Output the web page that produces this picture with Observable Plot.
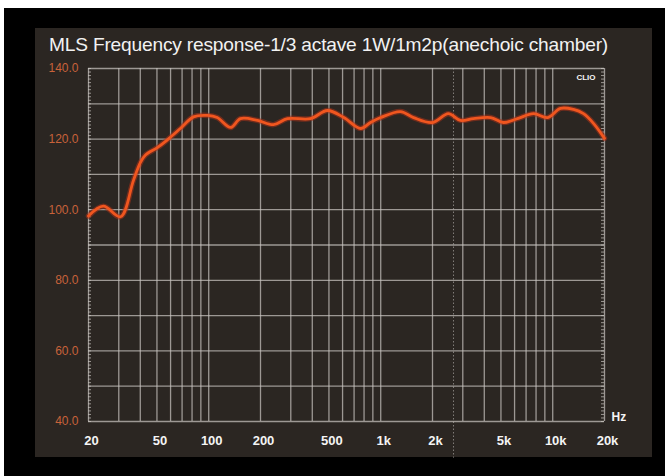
<!DOCTYPE html>
<html>
<head>
<meta charset="utf-8">
<script src="https://cdn.jsdelivr.net/npm/d3@7"></script>
<script src="https://cdn.jsdelivr.net/npm/@observablehq/plot@0.6"></script>
<style>
  html, body { margin: 0; padding: 0; background: #ffffff; }
  body { width: 665px; height: 476px; position: relative; overflow: hidden; font-family: "Liberation Sans", Arial, sans-serif; }
  #frame { position: absolute; left: 4px; top: 8px; width: 661px; height: 468px; background: #000; }
  #panel { position: absolute; left: 35px; top: 28px; width: 617px; height: 429px; background: #2b2622; }
  #title { position: absolute; left: 49px; top: 34px; color: #f2f2f2; font-size: 19px; white-space: nowrap; transform-origin: 0 0; letter-spacing: -0.2px; }
  #chart { position: absolute; left: 0; top: 0; }
</style>
</head>
<body>
<div id="frame"></div>
<div id="panel"></div>
<div id="title">MLS Frequency response-1/3 actave 1W/1m2p(anechoic chamber)</div>
<div id="chart"></div>
<script>
// Measured response (frequency in Hz, level in dB)
const freqs  = [20, 24.4, 30.7, 36.5, 40.1, 42.9, 50.3, 57.5, 68.4, 81.6, 98.4, 112, 134, 153, 192, 238, 287, 390, 490, 610, 764, 872, 1000, 1302, 1552, 2000, 2472, 2906, 3458, 4352, 5180, 6240, 7740, 9340, 11100, 13200, 15100, 17300, 20000];
const levels = [98.2, 101.0, 98.0, 108.3, 113.4, 115.5, 117.6, 119.8, 123.0, 126.3, 126.7, 126.1, 123.3, 125.8, 125.3, 124.1, 125.8, 125.8, 128.1, 126.1, 123.0, 124.7, 126.1, 127.8, 126.1, 124.7, 127.2, 125.3, 125.8, 126.1, 124.7, 125.8, 127.2, 126.1, 128.7, 128.4, 127.2, 124.4, 120.2];

// Axis ticks and labels
const xTickValues = [20, 50, 100, 200, 500, 1000, 2000, 5000, 10000, 20000];
const xTickLabels = ["20", "50", "100", "200", "500", "1k", "2k", "5k", "10k", "20k"];
const xGridValues = [20, 30, 40, 50, 60, 70, 80, 90, 100, 200, 300, 400, 500, 600, 700, 800, 900,
                     1000, 2000, 3000, 4000, 5000, 6000, 7000, 8000, 9000, 10000, 20000];
const yTickValues = [40, 60, 80, 100, 120, 140];
const yGridValues = [40, 50, 60, 70, 80, 90, 100, 110, 120, 130, 140];
const yMinorTicks = d3.range(40, 141, 1);
const unitLabel = ["Hz"];
const brandLabel = ["CLIO"];

const data = freqs.map((f, i) => ({f, db: levels[i]}));
const xLabels = xTickValues.map((v, i) => ({v, label: xTickLabels[i]}));

const gridStroke = "#c9c5c0";

const chart = Plot.plot({
  width: 665,
  height: 476,
  marginLeft: 88,
  marginRight: 61,
  marginTop: 68,
  marginBottom: 55,
  style: {background: "transparent", overflow: "visible", fontFamily: "'Liberation Sans', Arial, sans-serif"},
  x: {type: "log", domain: [20, 20000], axis: null},
  y: {domain: [40, 140]},
  marks: [
    Plot.gridX(xGridValues, {stroke: gridStroke, strokeOpacity: 0.72, strokeWidth: 1.3}),
    Plot.gridY(yGridValues, {stroke: gridStroke, strokeOpacity: 0.72, strokeWidth: 1.3}),
    Plot.tickY(yMinorTicks, {y: d => d, stroke: gridStroke, strokeOpacity: 0.7, insetRight: 513}),
    Plot.tickY(yMinorTicks, {y: d => d, stroke: gridStroke, strokeOpacity: 0.7, insetLeft: 513}),
    Plot.ruleX([2650], {y1: 140, y2: 29.6, stroke: "#bdb9b4", strokeOpacity: 0.6, strokeDasharray: "1.5,2"}),
    Plot.text(xLabels, {
      x: "v", text: "label", frameAnchor: "bottom", lineAnchor: "middle", dx: 3, dy: 19,
      fill: "#f4f4f4", fontWeight: "bold", fontSize: 13
    }),
    Plot.axisY(yTickValues, {
      tickSize: 0, tickPadding: 10,
      tickFormat: d => d.toFixed(1),
      fill: "#c8623a", fontSize: 12, label: null
    }),
    Plot.text(unitLabel, {text: d => d, frameAnchor: "bottom-right", textAnchor: "start", lineAnchor: "middle",
      dx: 7, dy: -4, fill: "#f4f4f4", fontWeight: "bold", fontSize: 12}),
    Plot.text(brandLabel, {text: d => d, frameAnchor: "top-right", textAnchor: "end", lineAnchor: "middle",
      dx: -9, dy: 9, fill: "#f4f4f4", fontWeight: "bold", fontSize: 8}),
    Plot.line(data, {x: "f", y: "db", stroke: "#a8321a", strokeOpacity: 0.55, strokeWidth: 5.5, curve: "catmull-rom"}),
    Plot.line(data, {x: "f", y: "db", stroke: "#f0561f", strokeWidth: 2.8, curve: "catmull-rom"})
  ]
});
document.getElementById("chart").appendChild(chart);

// fit the title to its measured width in the reference
const t = document.getElementById("title");
const w = t.getBoundingClientRect().width;
t.style.transform = `scaleX(${559 / w})`;
</script>
</body>
</html>
